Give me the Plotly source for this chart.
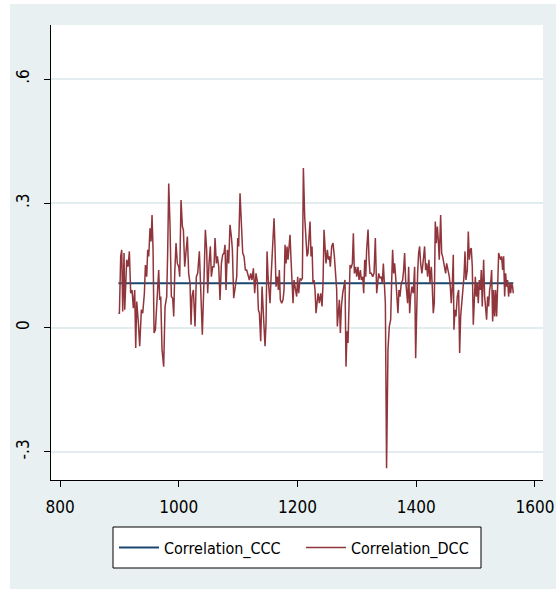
import plotly.graph_objects as go

# ---- data ----
dcc_x = [898.3, 900.0, 902.2, 903.9, 905.6, 907.8, 909.0, 911.2, 912.3, 914.6, 916.8, 919.0, 921.3, 923.5,
         925.8, 927.5, 929.2, 932.0, 934.2, 937.0, 939.3, 942.1, 943.8, 946.0, 947.7, 949.4, 951.6, 953.3,
         955.0, 956.7, 958.4, 960.6, 962.8, 964.5, 966.2, 967.9, 969.6, 971.8, 974.6, 976.9, 979.7, 981.4,
         983.1, 985.3, 987.5, 989.8, 991.5, 993.2, 995.4, 997.6, 999.9, 1001.6, 1003.8, 1006.1, 1007.8,
         1010.0, 1012.2, 1014.5, 1016.7, 1019.0, 1020.7, 1022.3, 1024.6, 1027.4, 1029.6, 1031.9, 1034.7,
         1036.9, 1039.7, 1042.0, 1044.8, 1047.0, 1048.7, 1051.0, 1053.2, 1054.9, 1057.2, 1059.4, 1061.1,
         1063.3, 1065.0, 1067.3, 1069.5, 1071.8, 1074.0, 1076.2, 1077.9, 1079.6, 1081.9, 1084.1, 1086.3,
         1088.6, 1090.3, 1092.5, 1094.8, 1097.6, 1099.3, 1100.9, 1103.2,
         1107.7, 1109.9, 1112.2, 1114.4, 1116.7, 1118.9, 1121.2, 1123.4, 1125.7, 1127.9, 1130.1, 1132.4,
         1134.1, 1135.8, 1138.0, 1140.3, 1141.9, 1143.6, 1145.3, 1147.0, 1148.7, 1150.4, 1152.0, 1153.7,
         1155.4, 1157.1, 1158.8, 1160.5, 1162.1, 1163.8, 1166.1, 1167.8, 1169.4, 1171.1, 1173.4, 1175.6,
         1177.3, 1179.0, 1180.7, 1182.4, 1184.0, 1185.7, 1187.4, 1189.1, 1190.8, 1192.5, 1194.1, 1196.4,
         1198.6, 1200.3, 1202.0, 1204.3, 1206.5, 1208.2, 1209.9, 1212.1, 1214.4, 1216.0, 1217.7, 1219.4,
         1221.1, 1222.8, 1224.5, 1226.1, 1227.8, 1229.5, 1231.2, 1232.9, 1234.6, 1236.8, 1239.1, 1241.3,
         1243.0, 1244.7, 1246.4, 1248.0, 1250.3, 1252.0, 1253.7, 1255.3, 1257.6, 1259.8, 1262.1, 1263.8,
         1266.0, 1267.1, 1268.8, 1270.5, 1272.2, 1273.9, 1276.1, 1278.4, 1280.0, 1281.7, 1283.4, 1285.1,
         1286.8, 1288.5, 1290.1, 1292.4, 1294.1, 1295.8, 1298.0, 1299.7, 1301.9, 1303.6, 1305.9, 1307.5,
         1309.8, 1311.5, 1313.2, 1314.9, 1316.5, 1318.8, 1320.5, 1322.1, 1324.4, 1326.6, 1328.9, 1331.1,
         1333.4, 1335.1, 1336.7, 1339.0, 1341.2, 1342.9, 1344.6, 1346.3, 1348.0, 1350.0,
         1352.4, 1354.6, 1356.9, 1358.5, 1360.2, 1361.9, 1363.6, 1365.3, 1367.0, 1369.2, 1370.9, 1372.6,
         1374.8, 1377.1, 1378.8, 1380.4, 1382.1, 1383.8, 1385.5, 1387.2, 1388.9, 1390.5, 1392.8, 1395.0,
         1397.3, 1399.0, 1400.7, 1402.3, 1404.0, 1405.7, 1407.4, 1409.6, 1411.9, 1414.1, 1415.8, 1417.5,
         1419.2, 1421.4, 1423.1, 1425.4, 1427.0, 1428.7, 1430.4, 1432.1, 1433.8, 1435.5, 1437.1, 1438.8,
         1441.1, 1442.8, 1444.4, 1446.1, 1447.8, 1449.5, 1451.2, 1453.4, 1455.7, 1457.4, 1459.0, 1460.7,
         1462.4, 1463.5, 1465.2, 1466.9, 1469.1, 1471.4, 1473.1, 1474.8, 1477.0, 1478.7, 1480.4, 1482.1,
         1483.7, 1486.0, 1487.7, 1489.4, 1491.0, 1492.7, 1494.4, 1496.1, 1497.8, 1499.5, 1501.1, 1502.8,
         1504.5, 1506.2, 1507.9, 1509.6, 1511.2, 1513.5, 1515.2, 1516.9, 1518.5, 1520.2, 1521.9, 1523.6,
         1525.3, 1527.0, 1528.7, 1530.3, 1532.0, 1533.7, 1535.4, 1537.1, 1538.8, 1540.4, 1542.1, 1543.8,
         1545.5, 1547.2, 1548.9, 1550.5, 1552.2, 1553.9, 1555.6, 1557.3, 1559.0, 1560.6, 1562.3, 1563.5]

dcc_y = [0.035, 0.035, 0.172, 0.188, 0.039, 0.180, 0.043, 0.107, 0.164, 0.147, 0.184, 0.083, 0.091, 0.047,
         0.091, -0.049, 0.063, 0.011, -0.045, 0.043, 0.035, 0.083, 0.151, 0.123, 0.188, 0.172, 0.240, 0.208,
         0.272, 0.188, -0.013, -0.005, 0.063, 0.099, 0.139, 0.067, 0.075, -0.053, -0.094, 0.051, 0.075, 0.188,
         0.348, 0.244, 0.075, 0.071, 0.027, 0.131, 0.204, 0.155, 0.147, 0.123, 0.308, 0.244, 0.236,
         0.147, 0.180, 0.220, 0.131, 0.107, 0.007, 0.075, 0.091, 0.003, 0.123, 0.131, 0.184,
         0.107, -0.017, 0.091, 0.236, 0.188, 0.083, 0.155, 0.196, 0.123, 0.147, 0.147, 0.216,
         0.155, 0.172, 0.147, 0.067, 0.155, 0.176, 0.180, 0.200, 0.091, 0.188, 0.155, 0.248,
         0.220, 0.188, 0.071, 0.099, 0.123, 0.216, 0.196, 0.324,
         0.180, 0.172, 0.139, 0.139, 0.123, 0.115, 0.131, 0.115, 0.143, 0.083, 0.131, 0.111,
         0.043, 0.035, -0.033, 0.099, 0.051, -0.005, -0.045, 0.011, 0.184, 0.123, 0.083, 0.059,
         0.119, 0.172, 0.236, 0.264, 0.196, 0.099, 0.123, 0.091, 0.139, 0.067, 0.059, 0.067,
         0.091, 0.200, 0.155, 0.196, 0.164, 0.188, 0.224, 0.164, 0.099, 0.059, 0.115, 0.099,
         0.075, 0.123, 0.083, 0.119, 0.115, 0.119, 0.385, 0.268, 0.220, 0.172, 0.180, 0.220,
         0.256, 0.172, 0.196, 0.107, 0.115, 0.091, 0.035, 0.059, 0.083, 0.059, 0.083, 0.051,
         0.107, 0.236, 0.188, 0.155, 0.188, 0.164, 0.172, 0.147, 0.196, 0.204, 0.172, 0.143,
         0.091, 0.003, 0.043, 0.067, -0.013, 0.051, 0.083, 0.107, 0.115, -0.094, -0.009, -0.037,
         0.091, 0.151, 0.143, 0.155, 0.228, 0.131, 0.147, 0.123, 0.147, 0.115, 0.139, 0.115,
         0.123, 0.083, 0.164, 0.123, 0.188, 0.237, 0.164, 0.131, 0.131, 0.123, 0.131, 0.216,
         0.083, 0.123, 0.131, 0.119, 0.123, 0.107, 0.155, 0.107, 0.059, -0.339,
         -0.053, 0.003, 0.019, 0.107, 0.188, 0.131, 0.155, 0.123, 0.075, 0.035, 0.091, 0.075,
         0.107, 0.115, 0.139, 0.180, 0.115, 0.075, 0.059, 0.147, 0.035, 0.075, 0.099, 0.083,
         0.147, -0.074, 0.091, 0.131, 0.180, 0.196, 0.155, 0.131, 0.164, 0.196, 0.139, 0.155,
         0.123, 0.164, 0.107, 0.147, 0.099, 0.035, 0.059, 0.256, 0.204, 0.244, 0.212, 0.164,
         0.272, 0.180, 0.172, 0.155, 0.139, 0.131, 0.155, 0.139, 0.123, 0.099, 0.059, 0.099,
         0.176, -0.005, 0.043, 0.027, 0.075, 0.091, -0.061, 0.027, 0.067, 0.115, 0.123, 0.184,
         0.115, 0.139, 0.232, 0.164, 0.188, 0.192, 0.147, 0.007, 0.091, 0.123, 0.075, 0.107,
         0.059, 0.115, 0.091, 0.139, 0.051, 0.164, 0.075, 0.035, 0.019, 0.075, 0.051, 0.091,
         0.107, 0.139, 0.015, 0.091, 0.027, 0.091, 0.027, 0.099, 0.180, 0.172, 0.164, 0.172,
         0.139, 0.172, 0.075, 0.131, 0.099, 0.115, 0.075, 0.107, 0.083, 0.107, 0.099, 0.083]

ccc_x = [898.3, 1563.5]
ccc_y = [0.107, 0.107]

y_tickvals = [-0.3, 0, 0.3, 0.6]
y_ticktext = ["-.3", "0", ".3", ".6"]
x_tickvals = [800, 1000, 1200, 1400, 1600]
x_ticktext = ["800", "1000", "1200", "1400", "1600"]

FONT = "Liberation Sans Narrow, Arial Narrow, DejaVu Sans Condensed, Liberation Sans, Arial, sans-serif"
BG = "#E8F0F2"

fig = go.Figure()
fig.add_trace(go.Scatter(x=ccc_x, y=ccc_y, mode="lines", name="Correlation_CCC",
                         line=dict(color="#1A476F", width=2)))
fig.add_trace(go.Scatter(x=dcc_x, y=dcc_y, mode="lines", name="Correlation_DCC",
                         line=dict(color="#90353B", width=1.5)))

L, R, T, B = 51, 543, 25, 480
W, H = 556, 589
pw, ph = R - L, B - T
# legend frame (pixels)
LX0, LX1, LY0, LY1 = 113, 481, 527, 568

fig.update_layout(
    template="none",
    width=W, height=H, autosize=False,
    margin=dict(l=L, r=W - R, t=T, b=H - B, pad=0, autoexpand=False),
    paper_bgcolor="white",
    plot_bgcolor="white",
    font=dict(family=FONT, size=16, color="black"),
    showlegend=True,
    legend=dict(orientation="h", x=((LX0 + LX1) / 2 + 4 - L) / pw, xanchor="center",
                y=(B - (LY0 + LY1) / 2) / ph, yanchor="middle",
                bgcolor="rgba(0,0,0,0)", borderwidth=0,
                font=dict(family=FONT, size=16, color="black"),
                itemwidth=40, tracegroupgap=0,
                entrywidth=132, entrywidthmode="pixels"),
    shapes=[
        dict(type="rect", xref="paper", yref="paper", layer="below",
             x0=(10 - L) / pw, x1=(W + 5 - L) / pw, y0=-(H + 5 - B) / ph, y1=(B - 4) / ph,
             fillcolor=BG, line=dict(width=0)),
        dict(type="rect", xref="paper", yref="paper", layer="below",
             x0=0, x1=1, y0=0, y1=1, fillcolor="white", line=dict(width=0)),
        dict(type="rect", xref="paper", yref="paper", layer="below",
             x0=(LX0 - L) / pw, x1=(LX1 - L) / pw, y0=(B - LY1) / ph, y1=(B - LY0) / ph,
             fillcolor="white", line=dict(color="black", width=1)),
    ],
)

fig.update_xaxes(range=[784.8, 1613.5], tickvals=x_tickvals, ticktext=x_ticktext,
                 automargin=False,
                 showgrid=False, zeroline=False, showline=True, linecolor="black", linewidth=1,
                 ticks="outside", ticklen=6, tickcolor="black", tickwidth=1,
                 ticklabelstandoff=6,
                 tickfont=dict(family=FONT, size=17, color="black"))
fig.update_yaxes(range=[-0.3676, 0.7303], tickvals=y_tickvals, ticktext=y_ticktext,
                 automargin=False,
                 showgrid=True, gridcolor="#E3ECEF", gridwidth=1.5, zeroline=False,
                 showline=True, linecolor="black", linewidth=1,
                 ticks="outside", ticklen=6, tickcolor="black", tickwidth=1, tickangle=-90,
                 ticklabelstandoff=8,
                 tickfont=dict(family=FONT, size=17, color="black"))

fig.write_html("out.html", config={"displayModeBar": False},
               post_script="document.body.style.margin='0';document.body.style.overflow='hidden';")
